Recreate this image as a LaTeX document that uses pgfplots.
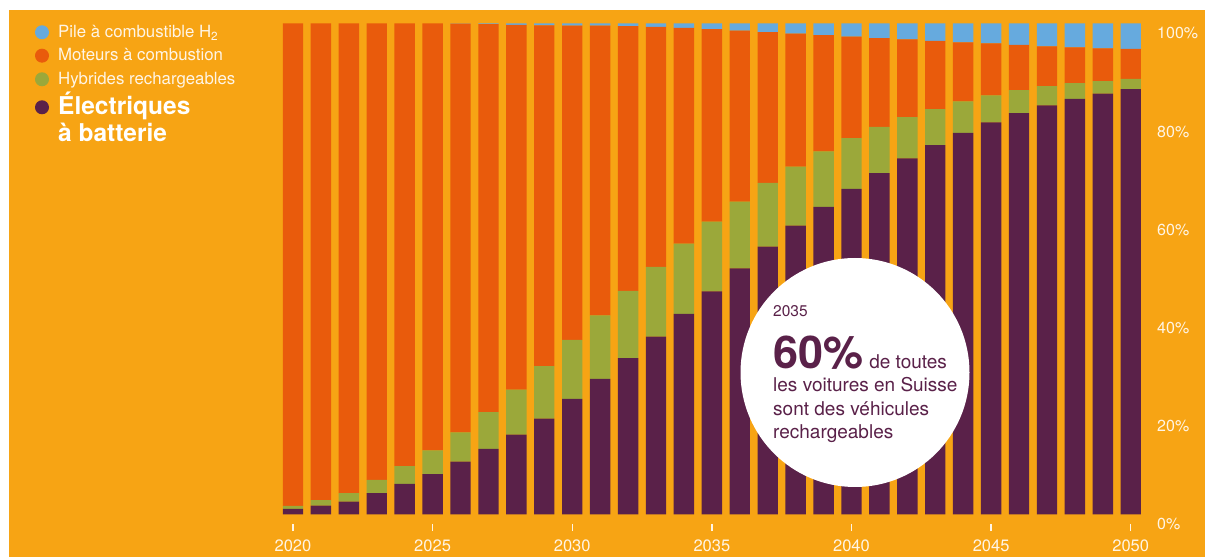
\documentclass[border=0pt]{standalone}
\usepackage{pgfplots}
\pgfplotsset{compat=1.18}
\usepackage{pgfplotstable}
\usepackage{fontspec}
\setmainfont{TeX Gyre Heros}
\definecolor{bgor}{RGB}{247,164,20}
\definecolor{cor}{RGB}{233,91,12}
\definecolor{cgr}{RGB}{155,168,58}
\definecolor{cpu}{RGB}{90,33,73}
\definecolor{cbl}{RGB}{102,170,222}
\definecolor{ctx}{RGB}{255,245,230}
\pgfplotstableread{
year purple green orange blue
2020 1.1 0.6 98.3 0
2021 1.75 1.15 97.1 0
2022 2.6 1.7 95.7 0
2023 4.3 2.7 93.0 0
2024 6.2 3.6 90.2 0
2025 8.2 4.8 87.0 0
2026 10.7 6.0 83.25 0.05
2027 13.3 7.5 79.05 0.15
2028 16.2 9.2 74.3 0.3
2029 19.5 10.7 69.4 0.4
2030 23.5 12.0 64.05 0.45
2031 27.6 12.9 59.0 0.5
2032 31.8 13.7 53.9 0.6
2033 36.2 14.2 48.85 0.75
2034 40.8 14.3 43.95 0.95
2035 45.4 14.2 39.2 1.2
2036 50.1 13.6 34.8 1.5
2037 54.5 13.0 30.7 1.8
2038 58.8 12.0 27.1 2.1
2039 62.6 11.3 23.7 2.4
2040 66.3 10.3 20.7 2.7
2041 69.5 9.4 18.1 3.0
2042 72.5 8.4 15.8 3.3
2043 75.2 7.3 13.9 3.6
2044 77.7 6.4 12.0 3.9
2045 79.8 5.5 10.6 4.1
2046 81.7 4.7 9.2 4.4
2047 83.3 3.9 8.1 4.7
2048 84.6 3.2 7.3 4.9
2049 85.7 2.5 6.7 5.1
2050 86.6 2.1 6.1 5.2
}\datatable
\begin{document}
\begin{tikzpicture}
\begin{scope}[x=1pt,y=1pt]
\useasboundingbox (0,0) rectangle (1205,557);
\fill[white] (0,0) rectangle (1205,557);
\fill[bgor] (9,0) rectangle (1205,547);
\end{scope}
\begin{axis}[
  at={(279pt,32.9pt)}, anchor=south west,
  scale only axis, width=865.7pt, height=500.8pt,
  xmin=2019.5, xmax=2050.5, ymin=-2, ymax=100,
  axis x line*=bottom, axis y line*=right,
  axis line style={draw=none},
  ybar stacked, bar width=0.73,
  xtick={2020,2025,...,2050},
  ytick={0,20,...,100},
  yticklabel={\pgfmathprintnumber{\tick}\%},
  /pgf/number format/assume math mode=true,
  x tick label style={/pgf/number format/1000 sep={}, font=\fontsize{16.5}{18}\selectfont, text=ctx, yshift=-5pt},
  y tick label style={font=\fontsize{16}{18}\selectfont, text=ctx, anchor=west, yshift=-10pt, xshift=2pt},
  tick align=outside, major tick length=7pt,
  x tick style={ctx, line width=1.3pt},
  y tick style={draw=none},
  clip=false,
]
\addplot[fill=cpu, draw=none] table[x=year, y=purple] {\datatable};
\addplot[fill=cgr, draw=none] table[x=year, y=green] {\datatable};
\addplot[fill=cor, draw=none] table[x=year, y=orange] {\datatable};
\addplot[fill=cbl, draw=none] table[x=year, y=blue] {\datatable};
\end{axis}
\begin{scope}[x=1pt,y=1pt]
% legend
\fill[cbl] (42,524.7) circle (7);
\fill[cor] (42,501.3) circle (7);
\fill[cgr] (42,477.7) circle (7);
\fill[cpu] (42,449.7) circle (7);
\node[anchor=base west, inner sep=0, text=ctx, font=\fontsize{16.8}{20}\selectfont] at (58,519.3) {Pile à combustible H\textsubscript{2}};
\node[anchor=base west, inner sep=0, text=ctx, font=\fontsize{16.8}{20}\selectfont] at (58,496) {Moteurs à combustion};
\node[anchor=base west, inner sep=0, text=ctx, font=\fontsize{16.8}{20}\selectfont] at (58,472) {Hybrides rechargeables};
\node[anchor=base west, inner sep=0, text=white, font=\fontsize{24.5}{28}\selectfont\bfseries] at (58,442) {Électriques};
\node[anchor=base west, inner sep=0, text=white, font=\fontsize{24.5}{28}\selectfont\bfseries] at (58,415.3) {à batterie};
% annotation circle
\fill[white] (855,184.5) circle (114.5);
\node[anchor=base west, inner sep=0, text=cpu, font=\fontsize{15.5}{18}\selectfont] at (773,240.3) {2035};
\node[anchor=base west, inner sep=0, text=cpu] at (773,188.7) {{\fontsize{45}{48}\selectfont\bfseries 60\%}\hspace{6pt}{\fontsize{19}{22}\selectfont de toutes}};
\node[anchor=base west, inner sep=0, text=cpu, font=\fontsize{19}{22}\selectfont] at (773,165.3) {les voitures en Suisse};
\node[anchor=base west, inner sep=0, text=cpu, font=\fontsize{19}{22}\selectfont] at (773,141.3) {sont des véhicules};
\node[anchor=base west, inner sep=0, text=cpu, font=\fontsize{19}{22}\selectfont] at (773,118.7) {rechargeables};
\end{scope}
\end{tikzpicture}
\end{document}
